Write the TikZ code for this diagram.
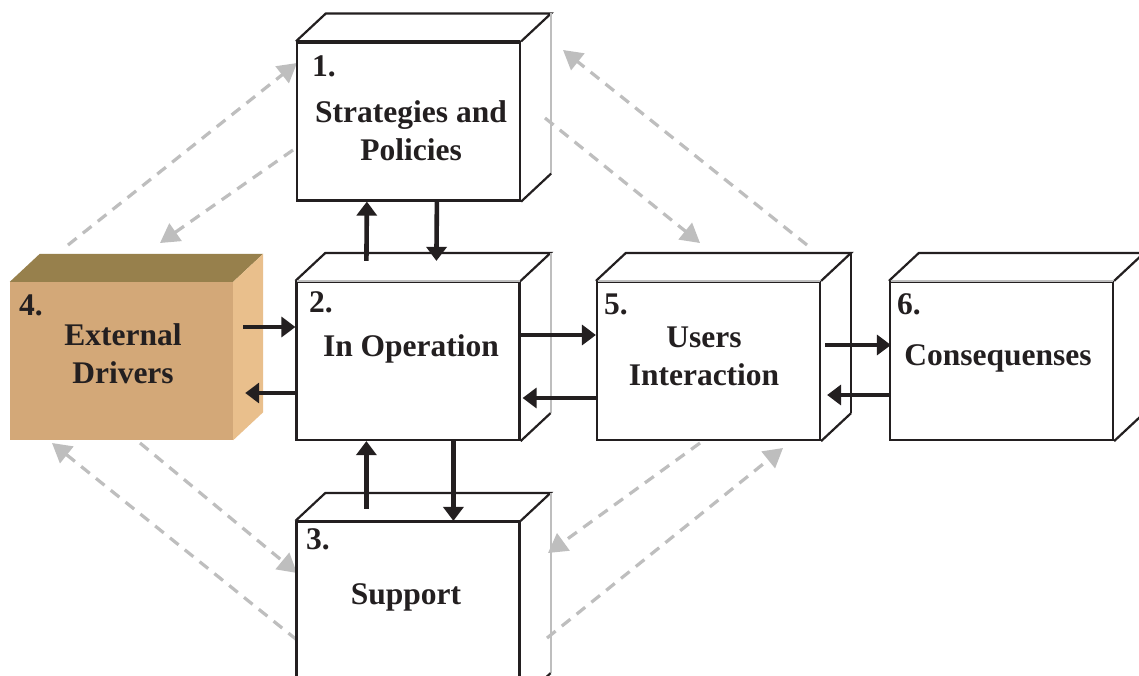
\documentclass[tikz,border=0pt]{standalone}
\usepackage{fontspec}
\setmainfont{Liberation Serif}
\usetikzlibrary{arrows.meta}
\definecolor{ink}{HTML}{231F20}
\definecolor{dgray}{HTML}{BEBEBE}
\definecolor{tanfront}{HTML}{D3A878}
\definecolor{tantop}{HTML}{97804C}
\definecolor{tanside}{HTML}{E9BF8C}
\tikzset{
  face/.style={draw=ink,line width=2.2pt,fill=white,inner sep=0pt,minimum width=223pt,minimum height=158pt},
  edge/.style={draw=ink,line width=2.2pt,line join=miter},
  lbl/.style={font=\fontsize{31.5}{38}\selectfont\bfseries,text=ink,align=center,inner sep=0pt},
  num/.style={font=\fontsize{31.5}{38}\selectfont\bfseries,text=ink,anchor=west,inner sep=0pt},
  blk/.style={draw=ink,line width=4.6pt,-{Triangle[length=14pt,width=20pt]}},
  dsh/.style={draw=dgray,line width=3.2pt,dash pattern=on 11pt off 8pt,-{Triangle[length=19pt,width=21pt,fill=dgray]}}
}
\newcommand\drawcube[3]{%
  \draw[edge] (#1.north west) -- ([shift={(30pt,28pt)}]#1.north west) -- ([shift={(30pt,28pt)}]#1.north east) -- (#1.north east);
  \draw[edge,draw=#2] ([shift={(30pt,28pt)}]#1.north east) -- ([shift={(30pt,28pt)}]#1.south east);
  \draw[edge] ([shift={(30pt,28pt)}]#1.south east) -- (#1.south east);
  \draw[edge,draw=#3] ([xshift=2pt]#1.north west) -- ([xshift=-1pt]#1.north east);
}
\begin{document}
\begin{tikzpicture}[x=1pt,y=-1pt]
\clip (0,0) rectangle (1139,675);
\fill[white] (0,0) rectangle (1139,675);

% ---- gray dashed feedback arrows
\coordinate (a1s) at (68,245);  \coordinate (a1e) at (297,63);
\coordinate (a2s) at (293,150); \coordinate (a2e) at (160,243);
\coordinate (a3s) at (807,245); \coordinate (a3e) at (563,50);
\coordinate (a4s) at (545,118); \coordinate (a4e) at (700,243);
\coordinate (a5s) at (140,443); \coordinate (a5e) at (297,573);
\coordinate (a6s) at (297,640); \coordinate (a6e) at (52,443);
\coordinate (a7s) at (700,443); \coordinate (a7e) at (548,553);
\coordinate (a8s) at (547,638); \coordinate (a8e) at (783,448);
\foreach \i in {1,...,8} { \draw[dsh] (a\i s) -- (a\i e); }

% ---- box 4 (external drivers, coloured)
\node[inner sep=0pt,minimum width=223pt,minimum height=158pt,fill=tanfront] (b4) at (121.5,361) {};
\fill[tantop] (b4.north west) -- ([shift={(30pt,28pt)}]b4.north west) -- ([shift={(30pt,28pt)}]b4.north east) -- (b4.north east) -- cycle;
\fill[tanside] (b4.north east) -- ([shift={(30pt,28pt)}]b4.north east) -- ([shift={(30pt,28pt)}]b4.south east) -- (b4.south east) -- cycle;

% ---- white boxes
\node[face] (b1) at (408.5,121.5) {};
\drawcube{b1}{dgray}{ink}
\node[face] (b2) at (408,361) {};
\drawcube{b2}{dgray}{dgray}
\node[face] (b5) at (708.5,361) {};
\drawcube{b5}{ink}{dgray}
\node[face] (b6) at (1001.5,361) {};
\drawcube{b6}{ink}{dgray}
\node[face,minimum height=178pt] (b3) at (408,611) {};
\drawcube{b3}{dgray}{ink}

% ---- texts
\node[num] (n1) at (312,66) {1.};
\node[lbl] (t1) at (411,131) {Strategies and\\Policies};
\node[num] (n2) at (309,302) {2.};
\node[lbl] (t2) at (411,349) {In Operation};
\node[num] (n3) at (306,539) {3.};
\node[lbl] (t3) at (406,597) {Support};
\node[num] (n4) at (19,305) {4.};
\node[lbl] (t4) at (123,354) {External\\Drivers};
\node[num] (n5) at (604,304) {5.};
\node[lbl] (t5) at (704,356) {Users\\Interaction};
\node[num] (n6) at (897,304) {6.};
\node[lbl] (t6) at (998,358) {Consequenses};

% ---- black flow arrows
\draw[blk] ([shift={(71pt,20pt)}]b2.north west) -- ([xshift=71pt]b1.south west);
\draw[blk] ([xshift=141pt]b1.south west) -- ([shift={(141pt,20pt)}]b2.north west);
\draw[blk] ([shift={(10pt,34pt)}]b4.east) -- ([yshift=34pt]b2.west);
\draw[blk] ([yshift=-32pt]b2.west) -- ([shift={(12pt,-32pt)}]b4.east);
\draw[blk] ([yshift=26pt]b2.east) -- ([yshift=26pt]b5.west);
\draw[blk] ([yshift=-37pt]b5.west) -- ([shift={(2pt,-37pt)}]b2.east);
\draw[blk] ([shift={(4pt,16pt)}]b5.east) -- ([shift={(2pt,16pt)}]b6.west);
\draw[blk] ([yshift=-34pt]b6.west) -- ([shift={(6pt,-34pt)}]b5.east);
\draw[blk] ([shift={(71pt,12pt)}]b3.north west) -- ([xshift=71pt]b2.south west);
\draw[blk] ([xshift=158pt]b2.south west) -- ([xshift=158pt]b3.north west);
\end{tikzpicture}
\end{document}
